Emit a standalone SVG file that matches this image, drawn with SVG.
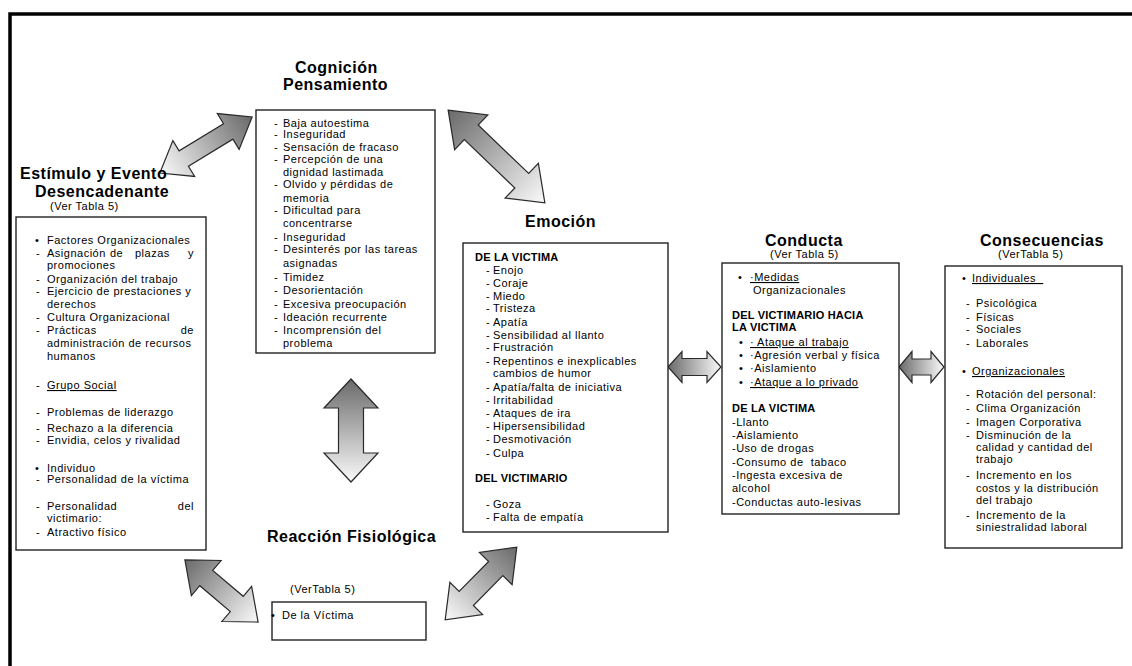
<svg xmlns="http://www.w3.org/2000/svg" width="1132" height="666" viewBox="0 0 1132 666">
  <style>
    text { font-family: "Liberation Sans", Arial, sans-serif; fill: #000; }
    .t { font-size: 11px; letter-spacing: 0.5px; }
    .b { font-size: 11px; font-weight: bold; letter-spacing: 0.2px; }
    .h { font-size: 16px; font-weight: bold; letter-spacing: 0.5px; }
    .u { text-decoration: underline; }
    .box { fill: #fff; stroke: #222; stroke-width: 1.4; }
    .arr { stroke: #2a2a2a; stroke-width: 1.2; stroke-linejoin: miter; fill: url(#shade); }
    .frame { fill: none; stroke: #000; stroke-width: 3.5; }
  </style>
  <defs>
    <linearGradient id="shade" x1="0" y1="0" x2="1" y2="0">
      <stop offset="0" stop-color="#6a6a6a"/>
      <stop offset="1" stop-color="#fafafa"/>
    </linearGradient>
  </defs>

  <rect width="1132" height="666" fill="#fff"/>
  <path class="frame" d="M10,666 V14 H1132"/>

  <!-- double-headed block arrows between the stages -->
  <g id="connectors">
    <polygon class="arr" transform="translate(206,145) rotate(148.7)" points="-54,0 -26,-21 -26,-9 26,-9 26,-21 54,0 26,21 26,9 -26,9 -26,21"/>
    <polygon class="arr" transform="translate(496.5,156.5) rotate(43.8)" points="-67,0 -35,-24 -35,-10 35,-10 35,-24 67,0 35,24 35,10 -35,10 -35,24"/>
    <polygon class="arr" transform="translate(351,430.5) rotate(90)" points="-51.5,0 -22.5,-27 -22.5,-12.5 22.5,-12.5 22.5,-27 51.5,0 22.5,27 22.5,12.5 -22.5,12.5 -22.5,27"/>
    <polygon class="arr" transform="translate(221.5,591) rotate(40.3)" points="-48,0 -20,-23 -20,-10 20,-10 20,-23 48,0 20,23 20,10 -20,10 -20,23"/>
    <polygon class="arr" transform="translate(481,583.5) rotate(134.6)" points="-51,0 -21,-23 -21,-10 21,-10 21,-23 51,0 21,23 21,10 -21,10 -21,23"/>
    <polygon class="arr" transform="translate(694.5,367)" points="-26.5,0 -12.5,-15.5 -12.5,-8.5 12.5,-8.5 12.5,-15.5 26.5,0 12.5,15.5 12.5,8.5 -12.5,8.5 -12.5,15.5"/>
    <polygon class="arr" transform="translate(921.5,367)" points="-22.5,0 -9.5,-15.5 -9.5,-8 9.5,-8 9.5,-15.5 22.5,0 9.5,15.5 9.5,8 -9.5,8 -9.5,15.5"/>
  </g>

  <!-- Estímulo y Evento Desencadenante -->
  <g id="estimulo">
    <text class="h" x="20" y="179">Estímulo y Evento</text>
    <text class="h" x="35" y="197">Desencadenante</text>
    <text class="t" x="50" y="210">(Ver Tabla 5)</text>
    <rect class="box" x="16" y="217" width="190" height="333"/>
    <text class="t" x="35" y="244">•</text>
    <text class="t" x="47" y="244">Factores Organizacionales</text>
    <text class="t" x="36" y="257">-</text>
    <text class="t" y="257"><tspan x="47">Asignación</tspan><tspan x="110">de</tspan><tspan x="135">plazas</tspan><tspan x="188">y</tspan></text>
    <text class="t" x="47" y="269">promociones</text>
    <text class="t" x="36" y="283">-</text>
    <text class="t" x="47" y="283">Organización del trabajo</text>
    <text class="t" x="36" y="295">-</text>
    <text class="t" x="47" y="295">Ejercicio de prestaciones y</text>
    <text class="t" x="47" y="308">derechos</text>
    <text class="t" x="36" y="321">-</text>
    <text class="t" x="47" y="321">Cultura Organizacional</text>
    <text class="t" x="36" y="334">-</text>
    <text class="t" x="47" y="334">Prácticas</text>
    <text class="t" x="194" y="334" text-anchor="end">de</text>
    <text class="t" x="47" y="347">administración de recursos</text>
    <text class="t" x="47" y="360">humanos</text>
    <text class="t" x="36" y="389">-</text>
    <text class="t u" x="47" y="389">Grupo Social</text>
    <text class="t" x="36" y="416">-</text>
    <text class="t" x="47" y="416">Problemas de liderazgo</text>
    <text class="t" x="36" y="432">-</text>
    <text class="t" x="47" y="432">Rechazo a la diferencia</text>
    <text class="t" x="36" y="444">-</text>
    <text class="t" x="47" y="444">Envidia, celos y rivalidad</text>
    <text class="t" x="35" y="472">•</text>
    <text class="t" x="47" y="472">Individuo</text>
    <text class="t" x="36" y="483">-</text>
    <text class="t" x="47" y="483">Personalidad de la víctima</text>
    <text class="t" x="36" y="510">-</text>
    <text class="t" x="47" y="510">Personalidad</text>
    <text class="t" x="194" y="510" text-anchor="end">del</text>
    <text class="t" x="47" y="522">victimario:</text>
    <text class="t" x="36" y="536">-</text>
    <text class="t" x="47" y="536">Atractivo físico</text>
  </g>

  <!-- Cognición / Pensamiento -->
  <g id="cognicion">
    <text class="h" x="295" y="73">Cognición</text>
    <text class="h" x="283" y="90">Pensamiento</text>
    <rect class="box" x="256" y="110" width="179" height="243"/>
    <g class="t">
      <text x="274" y="127">-</text><text x="283" y="127">Baja autoestima</text>
      <text x="274" y="138">-</text><text x="283" y="138">Inseguridad</text>
      <text x="274" y="151">-</text><text x="283" y="151">Sensación de fracaso</text>
      <text x="274" y="163">-</text><text x="283" y="163">Percepción de una</text>
      <text x="283" y="176">dignidad lastimada</text>
      <text x="274" y="188">-</text><text x="283" y="188">Olvido y pérdidas de</text>
      <text x="283" y="202">memoria</text>
      <text x="274" y="214">-</text><text x="283" y="214">Dificultad para</text>
      <text x="283" y="227">concentrarse</text>
      <text x="274" y="241">-</text><text x="283" y="241">Inseguridad</text>
      <text x="274" y="253">-</text><text x="283" y="253">Desinterés por las tareas</text>
      <text x="283" y="267">asignadas</text>
      <text x="274" y="281">-</text><text x="283" y="281">Timidez</text>
      <text x="274" y="294">-</text><text x="283" y="294">Desorientación</text>
      <text x="274" y="308">-</text><text x="283" y="308">Excesiva preocupación</text>
      <text x="274" y="321">-</text><text x="283" y="321">Ideación recurrente</text>
      <text x="274" y="334">-</text><text x="283" y="334">Incomprensión del</text>
      <text x="283" y="347">problema</text>
    </g>
  </g>

  <!-- Emoción -->
  <g id="emocion">
    <text class="h" x="525" y="227">Emoción</text>
    <rect class="box" x="463" y="243" width="205" height="289"/>
    <text class="b" x="475" y="261">DE LA VICTIMA</text>
    <g class="t">
      <text x="486" y="274">-</text><text x="493" y="274">Enojo</text>
      <text x="486" y="287">-</text><text x="493" y="287">Coraje</text>
      <text x="486" y="300">-</text><text x="493" y="300">Miedo</text>
      <text x="486" y="312">-</text><text x="493" y="312">Tristeza</text>
      <text x="486" y="326">-</text><text x="493" y="326">Apatía</text>
      <text x="486" y="339">-</text><text x="493" y="339">Sensibilidad al llanto</text>
      <text x="486" y="351">-</text><text x="493" y="351">Frustración</text>
      <text x="486" y="365">-</text><text x="493" y="365">Repentinos e inexplicables</text>
      <text x="493" y="377">cambios de humor</text>
      <text x="486" y="391">-</text><text x="493" y="391">Apatía/falta de iniciativa</text>
      <text x="486" y="404">-</text><text x="493" y="404">Irritabilidad</text>
      <text x="486" y="417">-</text><text x="493" y="417">Ataques de ira</text>
      <text x="486" y="430">-</text><text x="493" y="430">Hipersensibilidad</text>
      <text x="486" y="443">-</text><text x="493" y="443">Desmotivación</text>
      <text x="486" y="457">-</text><text x="493" y="457">Culpa</text>
      <text x="486" y="508">-</text><text x="493" y="508">Goza</text>
      <text x="486" y="521">-</text><text x="493" y="521">Falta de empatía</text>
    </g>
    <text class="b" x="475" y="482">DEL VICTIMARIO</text>
  </g>

  <!-- Conducta -->
  <g id="conducta">
    <text class="h" x="765" y="246">Conducta</text>
    <text class="t" x="770" y="258">(Ver Tabla 5)</text>
    <rect class="box" x="722" y="263" width="177" height="251"/>
    <text class="t" x="738" y="281">•</text>
    <text class="t u" x="750" y="281">·Medidas</text>
    <text class="t" x="753" y="294">Organizacionales</text>
    <text class="b" x="732" y="319">DEL VICTIMARIO HACIA</text>
    <text class="b" x="732" y="331">LA VICTIMA</text>
    <text class="t" x="739" y="346">•</text>
    <text class="t u" x="750" y="346">· Ataque al trabajo</text>
    <text class="t" x="739" y="359">•</text>
    <text class="t" x="750" y="359">·Agresión verbal y física</text>
    <text class="t" x="739" y="372">•</text>
    <text class="t" x="750" y="372">·Aislamiento</text>
    <text class="t" x="739" y="386">•</text>
    <text class="t u" x="750" y="386">·Ataque a lo privado</text>
    <text class="b" x="732" y="412">DE LA VICTIMA</text>
    <g class="t">
      <text x="732" y="426">-Llanto</text>
      <text x="732" y="439">-Aislamiento</text>
      <text x="732" y="452">-Uso de drogas</text>
      <text x="732" y="466" xml:space="preserve">-Consumo de  tabaco</text>
      <text x="732" y="479">-Ingesta excesiva de</text>
      <text x="732" y="492">alcohol</text>
      <text x="732" y="506">-Conductas auto-lesivas</text>
    </g>
  </g>

  <!-- Consecuencias -->
  <g id="consecuencias">
    <text class="h" x="980" y="246">Consecuencias</text>
    <text class="t" x="998" y="258">(VerTabla 5)</text>
    <rect class="box" x="945" y="266" width="177" height="282"/>
    <text class="t" x="962" y="282">•</text>
    <text class="t u" x="972" y="282" xml:space="preserve">Individuales  </text>
    <g class="t">
      <text x="966" y="307">-</text><text x="976" y="307">Psicológica</text>
      <text x="966" y="321">-</text><text x="976" y="321">Físicas</text>
      <text x="966" y="333">-</text><text x="976" y="333">Sociales</text>
      <text x="966" y="347">-</text><text x="976" y="347">Laborales</text>
    </g>
    <text class="t" x="962" y="375">•</text>
    <text class="t u" x="972" y="375">Organizacionales</text>
    <g class="t">
      <text x="966" y="398">-</text><text x="976" y="398">Rotación del personal:</text>
      <text x="966" y="412">-</text><text x="976" y="412">Clima Organización</text>
      <text x="966" y="426">-</text><text x="976" y="426">Imagen Corporativa</text>
      <text x="966" y="439">-</text><text x="976" y="439">Disminución de la</text>
      <text x="976" y="451">calidad y cantidad del</text>
      <text x="976" y="463">trabajo</text>
      <text x="966" y="479">-</text><text x="976" y="479">Incremento en los</text>
      <text x="976" y="492">costos y la distribución</text>
      <text x="976" y="504">del trabajo</text>
      <text x="966" y="519">-</text><text x="976" y="519">Incremento de la</text>
      <text x="976" y="531">siniestralidad laboral</text>
    </g>
  </g>

  <!-- Reacción Fisiológica -->
  <g id="reaccion">
    <text class="h" x="267" y="542">Reacción Fisiológica</text>
    <text class="t" x="290" y="593">(VerTabla 5)</text>
    <rect class="box" x="272" y="602" width="154" height="38"/>
    <text class="t" x="271" y="619">•</text>
    <text class="t" x="282" y="619">De la Víctima</text>
  </g>
</svg>
